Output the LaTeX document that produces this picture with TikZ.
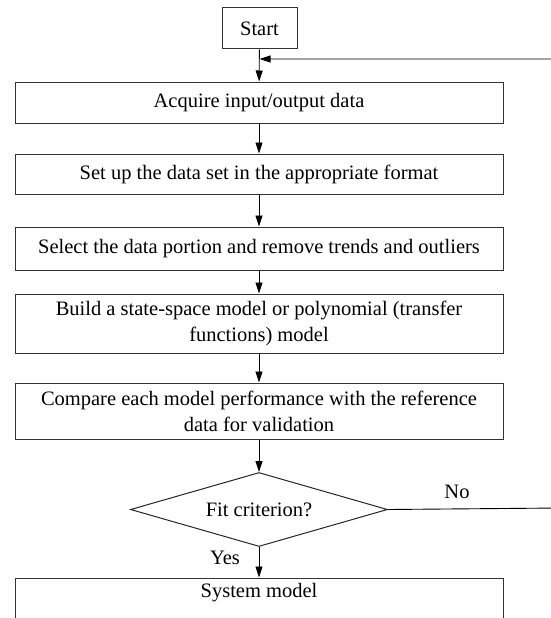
\documentclass[tikz,border=0pt]{standalone}
\usepackage{fontspec}
\setmainfont{Liberation Serif}
\usetikzlibrary{arrows.meta,shapes.geometric}

\tikzset{
  box/.style={draw=black!80, line width=1pt, minimum width=488pt, inner sep=0pt,
    align=center, font=\fontsize{20.5}{26}\selectfont},
  startbox/.style={draw=black!80, line width=1pt, minimum width=75pt, minimum height=41pt,
    inner sep=0pt, font=\fontsize{20.5}{26}\selectfont},
  decision/.style={draw=black!85, line width=1pt, diamond, aspect=3.47, minimum width=257pt,
    minimum height=74pt, inner sep=0pt, font=\fontsize{20.5}{26}\selectfont},
  flow/.style={draw=black, line width=0.9pt, -{Triangle[length=11pt,width=7pt]}},
  lbl/.style={font=\fontsize{20.5}{26}\selectfont, inner sep=0pt}
}

\begin{document}
\begin{tikzpicture}[x=1pt, y=-1pt]
  \useasboundingbox (0,0) rectangle (551,618);
  \clip (0,0) rectangle (551,618);

  % process chain
  \node[startbox] (start) at (259.5,28.5) {Start};
  \node[box, minimum height=41pt] (acq) at (259,102.5) {Acquire input/output data};
  \node[box, minimum height=40pt] (fmt) at (259,174) {Set up the data set in the appropriate format};
  \node[box, minimum height=43pt] (sel) at (259,248.5) {Select the data portion and remove trends and outliers};
  \node[box, minimum height=59pt] (bld) at (259,323.5) {Build a state-space model or polynomial (transfer\\functions) model};
  \node[box, minimum height=56pt] (cmp) at (259,411) {Compare each model performance with the reference\\data for validation};
  \node[decision] (fit) at (259,509.5) {Fit criterion?};
  \node[box, minimum height=60pt] (sys) at (259,608) {};
  \node[lbl] (systxt) at (259,593) {System model};

  % loop-back route coordinates
  \coordinate (r1) at (560,508);
  \coordinate (r2) at (560,59);

  % connectors
  \draw[flow] (start) -- (acq);
  \draw[flow] (acq) -- (fmt);
  \draw[flow] (fmt) -- (sel);
  \draw[flow] (sel) -- (bld);
  \draw[flow] (bld) -- (cmp);
  \draw[flow] (cmp) -- (fit);
  \draw[flow] (fit) -- (sys);
  \draw[flow] (fit.east) -- (r1) -- (r2) -- (start.south |- r2);

  % branch labels
  \node[lbl] (no) at (457,492) {No};
  \node[lbl] (yes) at (225,558) {Yes};
\end{tikzpicture}
\end{document}
